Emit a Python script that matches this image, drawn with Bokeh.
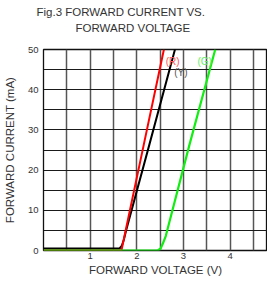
from bokeh.plotting import figure
from bokeh.models import Range1d, FixedTicker, Title, Label
from bokeh.embed import file_html
from bokeh.resources import INLINE

# Data
red_v = [0.0, 1.67, 2.15, 2.58]
red_i = [0.0, 0.0, 26.4, 50.0]
yel_v = [0.0, 1.63, 1.68, 1.72, 1.77, 2.27, 2.84]
yel_i = [0.5, 0.5, 1.2, 2.6, 5.0, 26.4, 51.0]
grn_v = [0.0, 2.45, 2.51, 2.56, 2.62, 3.13, 3.68]
grn_i = [0.0, 0.0, 0.5, 1.8, 3.6, 26.4, 50.0]

x_ticks = [1, 2, 3, 4]
y_ticks = [0, 10, 20, 30, 40, 50]
x_grid = [0.5, 1.0, 1.5, 2.0, 2.5, 3.0, 3.5, 4.0, 4.5]
y_grid = [5, 10, 15, 20, 25, 30, 35, 40, 45]

title1 = "Fig.3 FORWARD CURRENT VS."
title2 = "FORWARD VOLTAGE"
x_title = "FORWARD VOLTAGE (V)"
y_title = "FORWARD CURRENT (mA)"
series_labels = ["(R)", "(Y)", "(G)"]
label_x = [2.62, 2.80, 3.30]
label_y = [47.0, 44.2, 47.0]

FONT = "Liberation Sans"

p = figure(width=267, height=278, output_backend="svg", toolbar_location=None,
           x_range=Range1d(0, 4.8), y_range=Range1d(0, 50),
           min_border_left=37, min_border_right=0, min_border_top=0,
           min_border_bottom=0)
p.title = None

spacer = Title(text=" ", text_font=FONT, text_font_size="2px", standoff=12)
t2 = Title(text=title2, align="left", offset=32, text_font=FONT,
           text_font_size="11.5px", text_font_style="normal", text_color="#333333",
           standoff=-1)
t1 = Title(text=title1, align="left", offset=-7, text_font=FONT,
           text_font_size="11.5px", text_font_style="normal", text_color="#333333",
           standoff=6)
p.add_layout(spacer, "above")
p.add_layout(t2, "above")
p.add_layout(t1, "above")

p.outline_line_color = "#111111"
p.outline_line_width = 1.3

p.xgrid.ticker = FixedTicker(ticks=x_grid)
p.ygrid.ticker = FixedTicker(ticks=y_grid)
p.xgrid.grid_line_color = "#555555"
p.xgrid.grid_line_width = 1.5
p.ygrid.grid_line_color = "#1a1a1a"
p.ygrid.grid_line_width = 1.2

for ax in (p.xaxis[0], p.yaxis[0]):
    ax.axis_line_color = None
    ax.major_tick_line_color = None
    ax.minor_tick_line_color = None
    ax.major_tick_out = 0
    ax.major_tick_in = 0
    ax.minor_tick_out = 0
    ax.minor_tick_in = 0
    ax.major_label_text_font = FONT
    ax.major_label_text_font_size = "9.5px"
    ax.major_label_text_color = "#333333"
    ax.axis_label_text_font = FONT
    ax.axis_label_text_font_size = "11.5px"
    ax.axis_label_text_font_style = "normal"
    ax.axis_label_text_color = "#333333"

p.xaxis.ticker = FixedTicker(ticks=x_ticks)
p.yaxis.ticker = FixedTicker(ticks=y_ticks)
p.xaxis.axis_label = x_title
p.yaxis.axis_label = y_title
p.xaxis.major_label_standoff = 2
p.yaxis.major_label_standoff = 5
p.xaxis.axis_label_standoff = 2
p.yaxis.axis_label_standoff = 9

p.line(yel_v, yel_i, line_color="#000000", line_width=2)
p.line(red_v, red_i, line_color="#ff0000", line_width=2)
p.line(grn_v, grn_i, line_color="#11ee11", line_width=2.2)

label_colors = ["#ff5555", "#555555", "#66ee66"]
for txt, lx, ly, c in zip(series_labels, label_x, label_y, label_colors):
    p.add_layout(Label(x=lx, y=ly, text=txt, text_color=c, text_font=FONT,
                       text_font_size="10px", text_align="left", text_baseline="middle"))

open("out.html", "w").write(file_html(p, INLINE))
